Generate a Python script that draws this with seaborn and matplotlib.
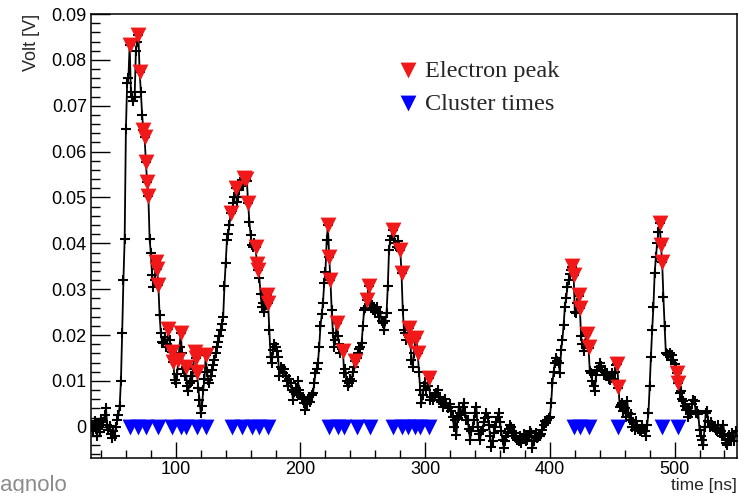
import numpy as np
import pandas as pd
import matplotlib
matplotlib.use("Agg")
import matplotlib.pyplot as plt
import seaborn as sns
from matplotlib.ticker import MultipleLocator, FuncFormatter

# Waveform: one sample per ns starting at t = 33 ns, amplitude in mV
t_start = 33
signal_mv = [
    0.5, -1.0, 1.2, -0.5, -2.0, 0.8, -1.2, 1.5, 0.3, 1.0,          # 33
    2.5, 4.0, 0.5, -0.8, 0.2, -1.5, -2.5, -1.0, -2.0, 0.0,         # 43
    1.5, 2.5, 4.5, 10.0, 20.5, 32.0, 41.0, 65.0, 75.0, 76.0,       # 53
    83.2, 73.0, 72.0, 71.0, 72.0, 82.0, 84.0, 85.4, 77.4, 73.0,    # 63
    68.0, 64.7, 63.2, 57.7, 53.4, 50.3, 41.0, 37.8, 33.0, 30.5,    # 73
    32.0, 36.0, 34.4, 31.0, 24.4, 20.4, 18.5, 18.2, 19.5, 17.5,    # 83
    18.0, 21.3, 19.0, 17.0, 16.4, 14.2, 10.2, 9.5, 11.5, 14.6,     # 93
    17.5, 20.5, 16.0, 12.5, 11.0, 13.1, 8.8, 7.7, 9.5, 11.0,       # 103
    10.0, 12.5, 16.4, 15.0, 12.0, 8.5, 5.9, 3.0, 4.5, 8.0,         # 113
    10.5, 15.7, 12.0, 10.2, 9.5, 11.0, 12.4, 13.5, 14.6, 16.0,     # 123
    17.5, 18.5, 19.7, 21.0, 22.5, 24.0, 30.6, 35.7, 40.7, 42.0,    # 133
    44.0, 46.6, 47.0, 48.7, 50.0, 52.0, 49.0, 50.2, 51.6, 53.0,    # 143
    53.8, 52.5, 54.2, 54.0, 53.5, 48.7, 44.7, 41.8, 39.7, 39.3,    # 153
    40.0, 39.2, 35.5, 34.2, 32.4, 29.0, 26.2, 27.0, 25.0, 26.5,    # 163
    28.8, 27.0, 21.1, 15.3, 13.9, 16.8, 18.0, 17.5, 16.5, 15.3,    # 173
    11.0, 13.0, 12.5, 11.7, 12.5, 11.0, 10.0, 8.8, 10.5, 9.5,      # 183
    8.0, 5.9, 7.5, 8.5, 7.3, 9.9, 8.0, 7.0, 6.0, 6.6,              # 193
    5.2, 3.7, 5.0, 5.9, 6.5, 5.5, 7.0, 7.3, 9.5, 11.7,             # 203
    12.5, 13.9, 17.5, 21.9, 24.5, 26.9, 31.3, 33.8, 40.7, 44.0,    # 213
    37.1, 32.0, 25.5, 20.4, 17.5, 19.0, 22.7, 19.7, 18.0, 16.0,    # 223
    17.0, 16.6, 11.7, 12.5, 9.9, 8.8, 9.5, 10.5, 9.9, 12.0,        # 233
    13.0, 14.4, 15.0, 16.0, 17.0, 17.5, 18.2, 21.9, 25.5, 26.0,    # 243
    27.7, 29.0, 30.7, 27.0, 26.5, 25.5, 26.0, 25.0, 26.2, 25.0,    # 253
    24.0, 24.8, 23.0, 22.6, 21.1, 23.0, 24.8, 30.6, 38.6, 40.7,    # 263
    41.5, 42.9, 41.5, 40.0, 39.3, 40.5, 39.0, 38.6, 33.5, 25.5,    # 273
    21.1, 20.4, 19.0, 20.0, 21.5, 18.6, 14.6, 13.1, 16.0, 17.5,    # 283
    19.3, 16.0, 12.0, 8.0, 5.2, 7.0, 8.8, 9.5, 8.0, 9.0,           # 293
    10.6, 5.9, 6.5, 5.9, 6.5, 7.0, 7.3, 8.0, 5.9, 6.5,             # 303
    5.5, 4.4, 5.0, 6.0, 5.2, 4.0, 4.4, 5.0, 3.5, 2.2,              # 313
    0.0, 1.5, -1.7, 2.0, 4.4, 3.0, 2.5, 4.4, 5.2, 3.0,             # 323
    1.5, 1.5, -0.5, -2.8, -1.0, 0.0, 1.5, 3.0, 4.4, 0.0,           # 333
    -1.5, -2.8, -1.0, -0.7, 1.0, 2.0, 3.0, 2.2, 0.5, -2.0,         # 343
    -4.3, -3.0, -1.4, 0.0, 1.0, 2.2, 3.0, 1.0, -1.0, -2.8,         # 353
    -4.6, -3.0, -2.0, -1.4, -0.5, 0.5, 0.0, -1.0, -1.4, -2.0,      # 363
    -2.5, -2.8, -3.0, -2.0, -3.5, -2.5, -1.5, -2.1, -3.0, -2.8,    # 373
    -2.0, -1.0, -1.4, -4.6, -3.0, -2.0, -1.4, -2.5, -2.0, -2.1,    # 383
    -1.5, -0.7, 0.5, 1.2, 0.8, 1.5, 2.0, 2.2, 5.2, 9.5,            # 393
    12.0, 13.9, 15.0, 14.3, 13.9, 11.7, 16.8, 19.0, 22.2, 26.2,    # 403
    28.0, 30.4, 32.0, 33.3, 34.2, 34.9, 33.1, 25.1, 24.9, 27.0,    # 413
    28.6, 26.0, 19.7, 18.0, 16.5, 18.0, 20.0, 20.4, 17.1, 12.1,    # 423
    11.7, 9.9, 8.8, 7.8, 11.3, 12.4, 13.0, 13.9, 13.3, 12.4,       # 433
    11.3, 12.0, 11.7, 11.8, 10.5, 10.2, 10.7, 11.7, 10.5, 12.0,    # 443
    13.5, 13.6, 8.5, 4.4, 4.8, 5.1, 3.4, 4.0, 2.2, 5.6,            # 453
    3.0, 1.5, 2.7, 0.0, 1.0, -0.7, 1.2, 0.0, -0.5, -1.0,           # 463
    -1.0, 0.5, -0.5, -1.0, -2.1, 0.5, 3.0, 8.8, 15.3, 21.1,        # 473
    26.2, 33.5, 37.0, 40.0, 42.5, 44.4, 39.7, 36.0, 28.4, 21.9,    # 483
    16.0, 15.8, 15.6, 16.0, 14.5, 15.7, 14.5, 13.6, 13.0, 11.7,    # 493
    9.5, 7.3, 7.7, 6.0, 5.6, 4.5, 3.7, 4.1, 2.2, 2.7,              # 503
    3.5, 5.0, 5.9, 5.6, 3.0, 3.4, 2.7, -0.7, -2.0, -2.8,           # 513
    -3.9, 0.0, 3.0, 3.4, 1.2, -0.1, 1.0, 0.5, 0.0, -0.3,           # 523
    -0.7, -1.0, 0.5, -1.4, -1.0, -2.1, 0.5, -1.5, -3.6, -3.9,      # 533
    -2.8, -1.7, -3.2, -1.4, -2.0, -3.0, -1.0,                      # 543
]

# Electron peaks found on the waveform (time in ns, amplitude in mV)
peak_t = [63, 70, 71, 74, 75, 76, 77, 78, 84, 85, 86, 94, 97, 98, 102, 104,
          108, 115, 116, 117, 124, 144, 148, 155, 156, 158, 164, 165, 166,
          173, 174, 222, 223, 224, 229, 234, 244, 253, 255, 274, 280, 281,
          287, 288, 293, 294, 303, 418, 419, 423, 424, 430, 431, 454, 455,
          488, 489, 490, 502, 503]
peak_mv = [83.2, 85.4, 77.4, 64.7, 63.2, 57.7, 53.4, 50.3, 36.0, 34.4, 31.0,
           21.3, 16.4, 14.2, 14.6, 20.5, 13.1, 16.4, 15.0, 12.0, 15.7, 46.6,
           52.0, 54.2, 54.0, 48.7, 39.2, 35.5, 34.2, 28.8, 27.0, 44.0, 37.1,
           32.0, 22.7, 16.6, 14.4, 27.7, 30.7, 42.9, 38.6, 33.5, 21.5, 18.6,
           19.3, 16.0, 10.6, 35.0, 33.0, 28.8, 26.0, 20.2, 17.3, 13.6, 8.7,
           44.4, 39.7, 36.0, 11.7, 9.5]

# Cluster times (drawn on the zero line)
cluster_t = [63, 70, 76, 86, 97, 104, 108, 117, 124,
             145, 153, 161, 167, 174,
             223, 230, 235, 245, 256,
             274, 281, 286, 292, 296, 303,
             419, 424, 431, 455, 490, 503]

wave = pd.DataFrame({"time": t_start + np.arange(len(signal_mv)),
                     "volt": np.array(signal_mv) / 1000})
peaks = pd.DataFrame({"time": peak_t, "volt": np.array(peak_mv) / 1000})
clusters = pd.DataFrame({"time": cluster_t, "volt": np.zeros(len(cluster_t))})

sns.set_style("ticks")
plt.rcParams["font.family"] = ["Liberation Sans", "DejaVu Sans"]

fig = plt.figure(figsize=(7.38, 4.93), dpi=100)
ax = fig.add_axes([0.1233, 0.071, 0.8753, 0.9006])

sns.lineplot(data=wave, x="time", y="volt", color="black", lw=1.3,
             marker="+", markersize=7.5, markeredgewidth=1.5,
             markeredgecolor="black", errorbar=None, ax=ax, zorder=2)
sns.scatterplot(data=peaks, x="time", y="volt", marker="v", s=130,
                color="#f01818", linewidth=0, ax=ax, zorder=3,
                label="Electron peak")
sns.scatterplot(data=clusters, x="time", y="volt", marker="v", s=130,
                color="#0000ff", linewidth=0, ax=ax, zorder=3,
                label="Cluster times")

ax.set_xlim(32, 550)
ax.set_ylim(-0.0068, 0.09)
ax.xaxis.set_major_locator(MultipleLocator(100))
ax.xaxis.set_minor_locator(MultipleLocator(20))
ax.yaxis.set_major_locator(MultipleLocator(0.01))
ax.yaxis.set_minor_locator(MultipleLocator(0.002))
ax.yaxis.set_major_formatter(FuncFormatter(lambda v, p: "0" if abs(v) < 1e-9 else f"{v:.2f}"))

ax.tick_params(which="both", direction="in", top=False, right=False,
               width=1, colors="black", labelsize=13)
ax.tick_params(axis="y", which="major", length=13.5, pad=3)
ax.tick_params(axis="y", which="minor", length=6.8)
ax.tick_params(axis="x", which="major", length=11.5, pad=2)
ax.tick_params(axis="x", which="minor", length=5.8)
for s in ax.spines.values():
    s.set_linewidth(1.1)
    s.set_color("black")

ax.set_xlabel("time [ns]", loc="right", fontsize=12.5, labelpad=0)
ax.set_ylabel("Volt [V]", loc="top", fontsize=13, labelpad=8)

ax.legend(loc="upper left", bbox_to_anchor=(0.539, 0.879),
          bbox_transform=fig.transFigure, frameon=False,
          prop={"family": "Liberation Serif", "size": 17.5},
          handlelength=0.8, handletextpad=0.3, labelspacing=0.45,
          borderpad=0, borderaxespad=0)

fig.text(0.0, 0.004, "agnolo", fontsize=16, color="#8c8c8c",
         ha="left", va="baseline")

fig.savefig("out.png", dpi=100)
